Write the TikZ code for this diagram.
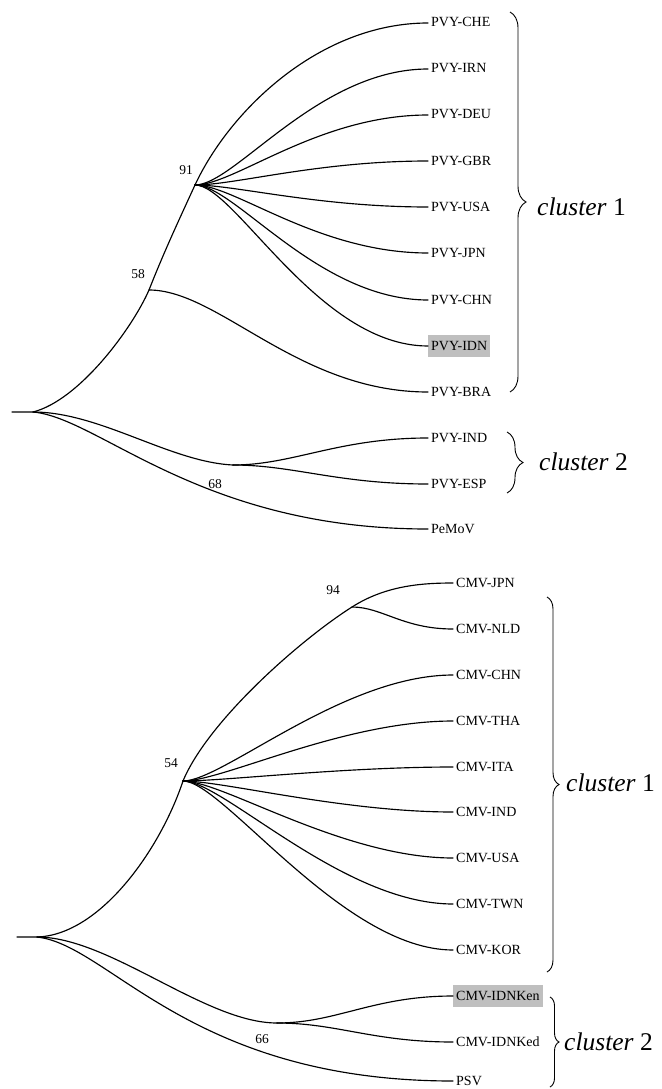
\documentclass[tikz,border=0pt]{standalone}
\usepackage{fontspec}
\setmainfont{Liberation Serif}
\usetikzlibrary{decorations.pathreplacing}
\begin{document}
\begin{tikzpicture}[x=1pt,y=-1pt,
  br/.style={line width=1.15pt, line cap=round},
  leaf/.style={anchor=west, inner xsep=3pt, inner ysep=5pt, text height=10pt, text depth=2pt, font=\fontsize{14}{16}\selectfont},
  hl/.style={fill=black!25},
  boot/.style={inner sep=0pt, font=\fontsize{13.5}{15}\selectfont},
  clus/.style={anchor=west, inner sep=0pt, font=\fontsize{25.5}{28}\selectfont},
  brc/.style={decorate, decoration={brace, amplitude=#1}, line width=0.9pt},
  cv/.style 2 args={to path={.. controls +(#1,0) and +(-#2,0) .. (\tikztotarget)}}
]
\useasboundingbox (0,0) rectangle (661,1089);
\fill[white] (0,0) rectangle (661,1089);
\clip (0,0) rectangle (661,1089);

% ---------- top tree ----------
\coordinate (T0) at (12,412);
\coordinate (T1) at (33,412);
\coordinate (T58) at (149,290);
\coordinate (T91) at (195,185);
\coordinate (T68) at (233,465);

\node[leaf] (CHE) at (428,23) {PVY-CHE};
\node[leaf] (IRN) at (428,69) {PVY-IRN};
\node[leaf] (DEU) at (428,115) {PVY-DEU};
\node[leaf] (GBR) at (428,161) {PVY-GBR};
\node[leaf] (USA) at (428,207) {PVY-USA};
\node[leaf] (JPN) at (428,253) {PVY-JPN};
\node[leaf] (CHN) at (428,300) {PVY-CHN};
\node[leaf,hl] (IDN) at (428,346) {PVY-IDN};
\node[leaf] (BRA) at (428,392) {PVY-BRA};
\node[leaf] (IND) at (428,438) {PVY-IND};
\node[leaf] (ESP) at (428,484) {PVY-ESP};
\node[leaf] (PEM) at (428,529) {PeMoV};

\draw[br] (T0) -- (T1) .. controls (80,400) and (133,327) .. (T58)
  .. controls (164,252) and (178,222) .. (T91)
  .. controls (230,110) and (320,23) .. (CHE.west);
\foreach \t in {IRN,DEU,GBR,USA,JPN,CHN,IDN}
  \draw[br] (T91) to[cv={40}{110}] (\t.west);
\draw[br] (T58) to[cv={70}{130}] (BRA.west);
\draw[br] (T1) .. controls (100,412) and (170,462) .. (T68);
\draw[br] (T1) .. controls (100,418) and (200,529) .. (PEM.west);
\draw[br] (T68) to[cv={60}{90}] (IND.west);
\draw[br] (T68) to[cv={60}{90}] (ESP.west);

\node[boot] (b91) at (186,170) {91};
\node[boot] (b58) at (138,274) {58};
\node[boot] (b68) at (215,484) {68};

\coordinate (TB1a) at (510,12);
\coordinate (TB1b) at (510,392);
\coordinate (TB2a) at (507,432);
\coordinate (TB2b) at (507,493);
\draw[brc=16pt] (TB1a) -- (TB1b);
\draw[brc=16pt] (TB2a) -- (TB2b);
\node[clus] (tc1) at (537,207) {\textit{cluster} 1};
\node[clus] (tc2) at (539,462) {\textit{cluster} 2};

% ---------- bottom tree ----------
\coordinate (B0) at (17,937);
\coordinate (B1) at (37,937);
\coordinate (B54) at (183,781);
\coordinate (B94) at (352,607);
\coordinate (B66) at (277,1023);

\node[leaf] (cJPN) at (453,583) {CMV-JPN};
\node[leaf] (cNLD) at (453,629) {CMV-NLD};
\node[leaf] (cCHN) at (453,675) {CMV-CHN};
\node[leaf] (cTHA) at (453,721) {CMV-THA};
\node[leaf] (cITA) at (453,767) {CMV-ITA};
\node[leaf] (cIND) at (453,812) {CMV-IND};
\node[leaf] (cUSA) at (453,858) {CMV-USA};
\node[leaf] (cTWN) at (453,904) {CMV-TWN};
\node[leaf] (cKOR) at (453,950) {CMV-KOR};
\node[leaf,hl] (cKen) at (453,996) {CMV-IDNKen};
\node[leaf] (cKed) at (453,1042) {CMV-IDNKed};
\node[leaf] (cPSV) at (453,1081) {PSV};

\draw[br] (B0) -- (B1) .. controls (100,935) and (160,850) .. (B54)
  .. controls (208,721) and (300,640) .. (B94)
  .. controls (385,586) and (420,583) .. (cJPN.west);
\draw[br] (B94) to[cv={30}{50}] (cNLD.west);
\foreach \t in {cCHN,cTHA,cITA,cIND,cUSA,cTWN,cKOR}
  \draw[br] (B54) to[cv={40}{110}] (\t.west);
\draw[br] (B1) .. controls (110,937) and (205,1023) .. (B66);
\draw[br] (B1) .. controls (110,945) and (190,1081) .. (cPSV.west);
\draw[br] (B66) to[cv={60}{80}] (cKen.west);
\draw[br] (B66) to[cv={60}{80}] (cKed.west);

\node[boot] (b94) at (333,590) {94};
\node[boot] (b54) at (171,763) {54};
\node[boot] (b66) at (262,1039) {66};

\coordinate (BB1a) at (547,597);
\coordinate (BB1b) at (547,972);
\coordinate (BB2a) at (550,997);
\coordinate (BB2b) at (550,1087);
\draw[brc=12pt] (BB1a) -- (BB1b);
\draw[brc=9pt] (BB2a) -- (BB2b);
\node[clus] (bc1) at (566,783) {\textit{cluster} 1};
\node[clus] (bc2) at (564,1042) {\textit{cluster} 2};
\end{tikzpicture}
\end{document}
